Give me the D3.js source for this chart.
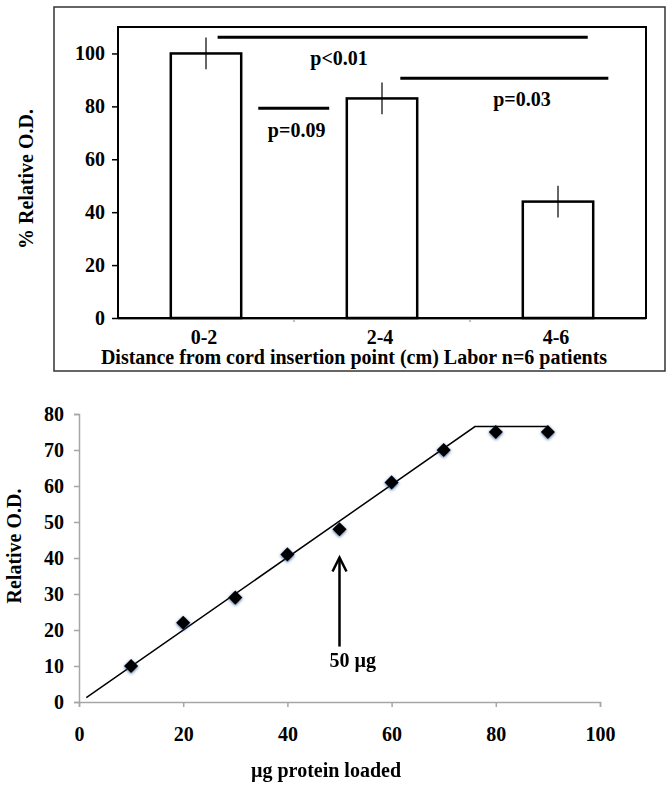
<!DOCTYPE html>
<html><head><meta charset="utf-8">
<script src="https://cdn.jsdelivr.net/npm/d3@7"></script>
<style>body{margin:0;background:#fff}svg{display:block}text{font-family:"Liberation Serif","Times New Roman",serif;font-weight:bold;fill:#000}</style>
</head><body><svg id="c" width="672" height="787"></svg>
<script>
// ---- Top chart data ----
const barCategories = ["0-2", "2-4", "4-6"];
const barValues = [100, 83, 44];
const barErrors = [6, 6, 6];
const barYTicks = [0, 20, 40, 60, 80, 100];
// significance brackets: x in category-index units (0 = centre of first bar), y in % units
const sigLabels = ["p<0.01", "p=0.09", "p=0.03"];
const sigX1 = [0.066, 0.297, 1.104];
const sigX2 = [2.169, 0.70, 2.286];
const sigY = [106.1, 79.3, 90.6];
const sigTextX = [0.756, 0.515, 1.795];
const sigTextY = [95.5, 68.5, 80.2];

// ---- Bottom chart data ----
const proteinLoaded = [10, 20, 30, 40, 50, 60, 70, 80, 90];
const relativeOD = [10, 22, 29, 41, 48, 61, 70, 75, 75];
const fitX = [1.4, 76, 90];
const fitY = [1.2, 76.5, 76.5];
const lineYTicks = [0, 10, 20, 30, 40, 50, 60, 70, 80];
const lineXTicks = [0, 20, 40, 60, 80, 100];
const arrowX = 50, arrowFrom = 15.4, arrowTo = 40.4;
const arrowLabel = "50 µg", arrowLabelY = 9.8;

const svg = d3.select("#c");
const FS = 20;

// ===== Top chart =====
svg.append("rect").attr("x", 54).attr("y", 7).attr("width", 611).attr("height", 364)
  .attr("fill", "none").attr("stroke", "#333").attr("stroke-width", 1.5);

const tL = 118, tR = 646, tT = 27, tB = 318;
const xb = d3.scaleBand().domain(barCategories).range([tL, tR]).paddingInner(0.6).paddingOuter(0.3);
const yb = d3.scaleLinear().domain([0, 110]).range([tB, tT]);
const step = xb.step();
const cx = i => xb(barCategories[0]) + xb.bandwidth() / 2 + i * step;

// band boundary ticks (grey)
const g1 = svg.append("g");
[1, 2].forEach(i => {
  const x = tL + step * i;
  g1.append("line").attr("x1", x).attr("x2", x).attr("y1", tB).attr("y2", tB + 4).attr("stroke", "#aaa").attr("stroke-width", 1.5);
});
// y axis
const yAx = svg.append("g").attr("transform", `translate(${tL},0)`)
  .call(d3.axisLeft(yb).tickValues(barYTicks).tickSize(6).tickPadding(7));
yAx.select(".domain").remove();
yAx.selectAll(".tick line").attr("stroke", "#000").attr("stroke-width", 1.5);
yAx.selectAll(".tick text").style("font-size", FS + "px").attr("fill", "#000");

// frame
svg.append("rect").attr("x", tL).attr("y", tT).attr("width", tR - tL).attr("height", tB - tT)
  .attr("fill", "none").attr("stroke", "#000").attr("stroke-width", 2);
svg.append("line").attr("x1", tL).attr("x2", tR).attr("y1", tB + 1.5).attr("y2", tB + 1.5).attr("stroke", "#999").attr("stroke-width", 1);

// bars
svg.append("g").selectAll("rect").data(barValues).join("rect")
  .attr("x", (d, i) => xb(barCategories[i])).attr("width", xb.bandwidth())
  .attr("y", d => yb(d)).attr("height", d => tB - yb(d))
  .attr("fill", "#fff").attr("stroke", "#000").attr("stroke-width", 2.5);
// error bars
svg.append("g").selectAll("line").data(barValues).join("line")
  .attr("x1", (d, i) => cx(i)).attr("x2", (d, i) => cx(i))
  .attr("y1", (d, i) => yb(d + barErrors[i])).attr("y2", (d, i) => yb(d - barErrors[i]))
  .attr("stroke", "#000").attr("stroke-width", 1.2);

// x labels
svg.append("g").selectAll("text").data(barCategories).join("text")
  .attr("x", (d, i) => cx(i) - 2).attr("y", 344).attr("text-anchor", "middle")
  .style("font-size", FS + "px").text(d => d);
svg.append("text").attr("x", 354).attr("y", 364).attr("text-anchor", "middle")
  .style("font-size", FS + "px").text("Distance from cord insertion point (cm) Labor n=6 patients");
svg.append("text").attr("transform", "translate(33,179) rotate(-90)").attr("text-anchor", "middle")
  .style("font-size", FS + "px").text("% Relative O.D.");

// significance lines
sigLabels.forEach((lab, i) => {
  svg.append("line").attr("x1", cx(sigX1[i])).attr("x2", cx(sigX2[i]))
    .attr("y1", yb(sigY[i])).attr("y2", yb(sigY[i])).attr("stroke", "#000").attr("stroke-width", 3);
  svg.append("text").attr("x", cx(sigTextX[i])).attr("y", yb(sigTextY[i])).attr("text-anchor", "middle")
    .style("font-size", FS + "px").text(lab);
});

// ===== Bottom chart =====
const defs = svg.append("defs");
const f = defs.append("filter").attr("id", "sh").attr("x", "-50%").attr("y", "-50%").attr("width", "200%").attr("height", "200%");
f.append("feDropShadow").attr("dx", 0).attr("dy", 1).attr("stdDeviation", 1.6).attr("flood-color", "#1f3f78").attr("flood-opacity", 0.8);

const xs = d3.scaleLinear().domain([0, 100]).range([79, 600]);
const ys = d3.scaleLinear().domain([0, 80]).range([702, 414]);

const gy = svg.append("g").attr("transform", `translate(${xs(0)},0)`)
  .call(d3.axisLeft(ys).tickValues(lineYTicks).tickSize(5).tickSizeOuter(5).tickPadding(10));
const gx = svg.append("g").attr("transform", `translate(0,${ys(0)})`)
  .call(d3.axisBottom(xs).tickValues(lineXTicks).tickSize(5).tickSizeOuter(5).tickPadding(20));
[gy, gx].forEach(g => {
  g.selectAll(".domain,.tick line").attr("stroke", "#a6a6a6").attr("stroke-width", 1.5);
  g.selectAll(".tick text").style("font-size", FS + "px").attr("fill", "#000");
});

const fit = fitX.map((x, i) => [x, fitY[i]]);
svg.append("path").datum(fit).attr("d", d3.line().x(d => xs(d[0])).y(d => ys(d[1])))
  .attr("fill", "none").attr("stroke", "#000").attr("stroke-width", 1.5);

svg.append("g").attr("filter", "url(#sh)").selectAll("path").data(proteinLoaded).join("path")
  .attr("d", d3.symbol(d3.symbolSquare, 100))
  .attr("transform", (d, i) => `translate(${xs(d)},${ys(relativeOD[i])}) rotate(45)`)
  .attr("fill", "#000");

// arrow
const ax = xs(arrowX), ay0 = ys(arrowFrom), ay1 = ys(arrowTo);
svg.append("line").attr("x1", ax).attr("x2", ax).attr("y1", ay0).attr("y2", ay1 + 1)
  .attr("stroke", "#000").attr("stroke-width", 2.5);
svg.append("path").attr("d", `M${ax - 7},${ay1 + 15}L${ax},${ay1 + 1}L${ax + 7},${ay1 + 15}`)
  .attr("fill", "none").attr("stroke", "#000").attr("stroke-width", 2.5);
svg.append("text").attr("x", ax - 10).attr("y", ys(arrowLabelY)).style("font-size", FS + "px").text(arrowLabel);

svg.append("text").attr("x", 326).attr("y", 777).attr("text-anchor", "middle")
  .style("font-size", FS + "px").text("µg protein loaded");
svg.append("text").attr("transform", "translate(21,546) rotate(-90)").attr("text-anchor", "middle")
  .style("font-size", FS + "px").text("Relative O.D.");
</script></body></html>
